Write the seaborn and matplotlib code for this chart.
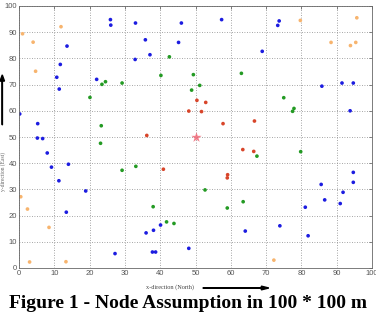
import matplotlib
matplotlib.use("Agg")
import matplotlib.pyplot as plt
import seaborn as sns
import pandas as pd

blue_x = [0.2, 5.3, 5.2, 6.7, 13.6, 11.7, 10.7, 11.4, 22.0, 25.9, 26.0, 33.0, 35.8, 37.1, 32.9, 46.0, 45.2,
          57.4, 73.7, 73.3, 68.9, 85.8, 91.5, 94.7, 93.8, 8.0, 9.2, 14.0, 11.3, 13.4, 18.9, 27.2, 36.0, 38.1,
          40.1, 37.8, 38.7, 48.1, 94.7, 94.7, 85.6, 91.8, 86.6, 91.0, 81.1, 64.1, 73.9, 81.9]
blue_y = [58.8, 55.1, 49.6, 49.4, 84.7, 77.7, 72.8, 68.3, 72.0, 94.8, 92.7, 93.5, 87.1, 81.4, 79.6, 93.5, 86.1,
          94.8, 94.3, 92.6, 82.7, 69.4, 70.6, 70.6, 60.0, 43.9, 38.5, 39.6, 33.3, 21.3, 29.4, 5.5, 13.4, 14.4,
          16.4, 6.1, 6.1, 7.5, 36.5, 32.7, 31.9, 28.9, 26.0, 24.6, 23.2, 14.1, 16.1, 12.3]

orange_x = [1.0, 4.0, 4.7, 11.9, 79.7, 95.7, 88.4, 93.9, 95.4, 0.5, 2.4, 8.5, 3.0, 13.3, 72.2]
orange_y = [89.4, 86.2, 75.1, 92.1, 94.5, 95.5, 86.1, 84.9, 86.1, 27.2, 22.5, 15.5, 2.3, 2.4, 3.0]

green_x = [23.5, 24.5, 29.2, 20.1, 23.3, 40.2, 42.6, 49.4, 51.2, 48.9, 63.0, 75.0, 77.9, 77.5, 23.1, 29.2,
           33.1, 38.0, 41.8, 43.9, 67.4, 79.8, 52.7, 63.5, 59.0]
green_y = [70.1, 71.1, 70.6, 65.1, 54.3, 73.5, 80.6, 73.8, 69.7, 67.9, 74.3, 65.0, 60.9, 59.8, 47.6, 37.3,
           38.8, 23.4, 17.6, 17.0, 42.7, 44.4, 29.8, 25.3, 22.9]

red_x = [36.2, 48.1, 50.4, 52.9, 51.7, 57.8, 66.7, 40.9, 63.4, 66.5, 59.1, 59.0]
red_y = [50.6, 59.9, 64.0, 63.2, 59.7, 55.1, 56.1, 37.7, 45.2, 44.5, 35.6, 34.4]

sink_x = [50.0]
sink_y = [50.0]

ticks = [0, 10, 20, 30, 40, 50, 60, 70, 80, 90, 100]

groups = [("blue", blue_x, blue_y), ("orange", orange_x, orange_y),
          ("green", green_x, green_y), ("red", red_x, red_y)]
rows = []
for g, xs, ys in groups:
    for x, y in zip(xs, ys):
        rows.append({"x": x, "y": y, "group": g})
df = pd.DataFrame(rows)
palette = {"blue": "#1c1ce0", "orange": "#f7b46e", "green": "#239a23", "red": "#d8452a"}

sns.set_style("white")
plt.rcParams['font.family'] = ['Liberation Sans Narrow', 'Liberation Sans', 'DejaVu Sans']

fig = plt.figure(figsize=(3.76, 3.12), dpi=100)
ax = fig.add_axes([19/376, 1-268/312, (372-19)/376, (268-6)/312])

sns.scatterplot(data=df, x="x", y="y", hue="group", palette=palette, ax=ax, legend=False,
                marker="o", s=7, linewidth=0)
sns.scatterplot(x=sink_x, y=sink_y, ax=ax, color="#f06070", marker="*", s=60, linewidth=0, alpha=0.8)

ax.set_xlim(0, 100)
ax.set_ylim(0, 100)
ax.set_xticks(ticks)
ax.set_yticks(ticks)
ax.set_xticklabels([str(t) for t in ticks])
ax.set_yticklabels([str(t) for t in ticks])
ax.grid(True, linestyle=(0, (1, 2)), color="#888888", linewidth=0.6)
ax.tick_params(direction="in", length=2.5, width=0.5, labelsize=5.5, colors="#555555",
               top=True, right=True, pad=1.5)
for s in ax.spines.values():
    s.set_color("#666666")
    s.set_linewidth(0.6)
ax.set_xlabel("")
ax.set_ylabel("")

fig.text(0.515, 1-287/312, "x-direction (North)", ha="right", va="center", fontsize=4.5,
         family="Liberation Serif", color="#444444")
fig.patches.append(matplotlib.patches.FancyArrow(
    0.54, 1-288/312, 0.175, 0, width=0.0015, head_width=0.012, head_length=0.02,
    length_includes_head=True, color="black", transform=fig.transFigure, figure=fig))
fig.text(0.008, 0.45, "y-direction (East)", rotation=90, ha="center", va="center", fontsize=4.0,
         family="Liberation Serif", color="#666666")
fig.patches.append(matplotlib.patches.FancyArrow(
    0.006, 0.6, 0, 0.16, width=0.001, head_width=0.012, head_length=0.02,
    length_includes_head=True, color="black", transform=fig.transFigure, figure=fig))

fig.text(0.5, 1-303.5/312, "Figure 1 - Node Assumption in 100 * 100 m", ha="center", va="center",
         fontsize=14, fontweight="bold", family="Liberation Serif", color="black")

fig.savefig("out.png", dpi=100)
